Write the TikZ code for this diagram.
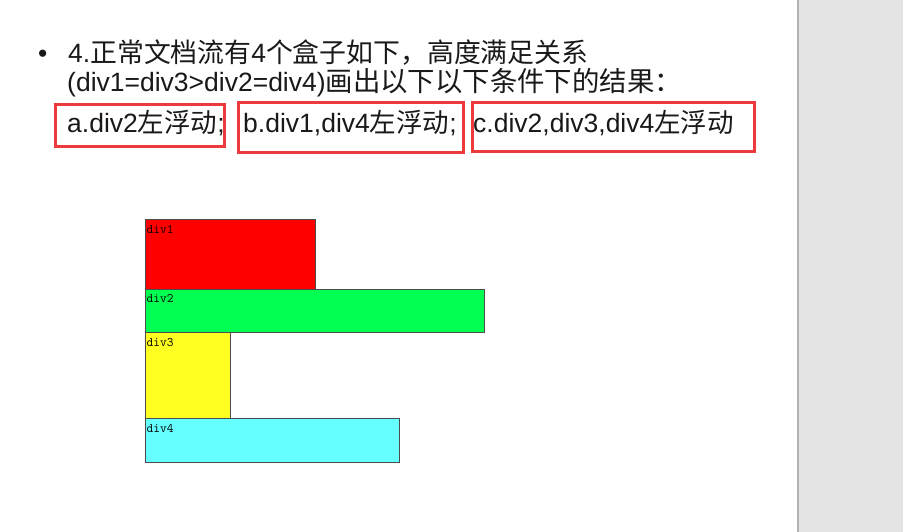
\documentclass[tikz,border=0pt]{standalone}
\usepackage{fontspec}
\setmainfont{Liberation Sans}
\newfontfamily\zhfont{Noto Sans CJK SC}
\usepackage{tikz}
\usetikzlibrary{positioning}
\definecolor{framered}{RGB}{238,58,58}
\definecolor{divred}{RGB}{255,0,0}
\definecolor{divgreen}{RGB}{0,255,80}
\definecolor{divyellow}{RGB}{255,255,34}
\definecolor{divcyan}{RGB}{102,255,255}
\definecolor{panelgray}{RGB}{228,228,228}
\definecolor{panelline}{RGB}{178,178,178}
\newcommand{\zh}[2][26.5]{{\zhfont\fontsize{#1}{30}\selectfont #2}}
\tikzset{
  textline/.style={anchor=base west, inner sep=0pt, text=black!90,
    font=\fontsize{26.5}{30}\selectfont},
  divlabel/.style={anchor=north west, inner sep=1.5pt, yshift=-4pt,
    font=\ttfamily\fontsize{13}{13}\selectfont},
}
\newcommand{\divbox}[6]{%
  \draw[fill=#5, draw=black!70, line width=1pt] (#1,#2) rectangle (#3,#4);
  \node[divlabel] (#6) at (#1,#2) {#6};}
\newcommand{\hlbox}[4]{%
  \draw[draw=framered, line width=3pt] (#1,#2) rectangle (#3,#4);}

\begin{document}
\begin{tikzpicture}[x=1pt, y=-1pt]
    \useasboundingbox (0,0) rectangle (903,532);
    % side panel
    \fill[panelgray] (798,0) rectangle (903,532);
    \draw[panelline, line width=1.5pt] (798,0) -- (798,532);
    % question text
    \node[textline] (bullet) at (38,63) {•};
    \node[textline] (line1) at (68,63) {4.\zh[26.85]{正常文档流有}4\zh[26.85]{个盒子如下，高度满足关系}};
    \node[textline] (line2) at (67,92) {(div1=div3>div2=div4)\zh[27.4]{画出以下以下条件下的结果：}};
    \node[textline] (casea) at (67,133) {a.div2\zh{左浮动};};
    \node[textline] (caseb) at (243,133) {b.div1,div4\zh{左浮动};};
    \node[textline] (casec) at (473,133) {c.div2,div3,div4\zh{左浮动}};
    \hlbox{55}{105}{224}{147}
    \hlbox{238}{103}{463}{153}
    \hlbox{472}{103}{754}{152}
    % the four boxes
    \divbox{145}{220}{315}{289}{divred}{div1}
    \divbox{145}{289}{484}{332.5}{divgreen}{div2}
    \divbox{145}{332.5}{230.5}{418.5}{divyellow}{div3}
    \divbox{145}{418.5}{399}{462}{divcyan}{div4}
  \end{tikzpicture}
\end{document}
